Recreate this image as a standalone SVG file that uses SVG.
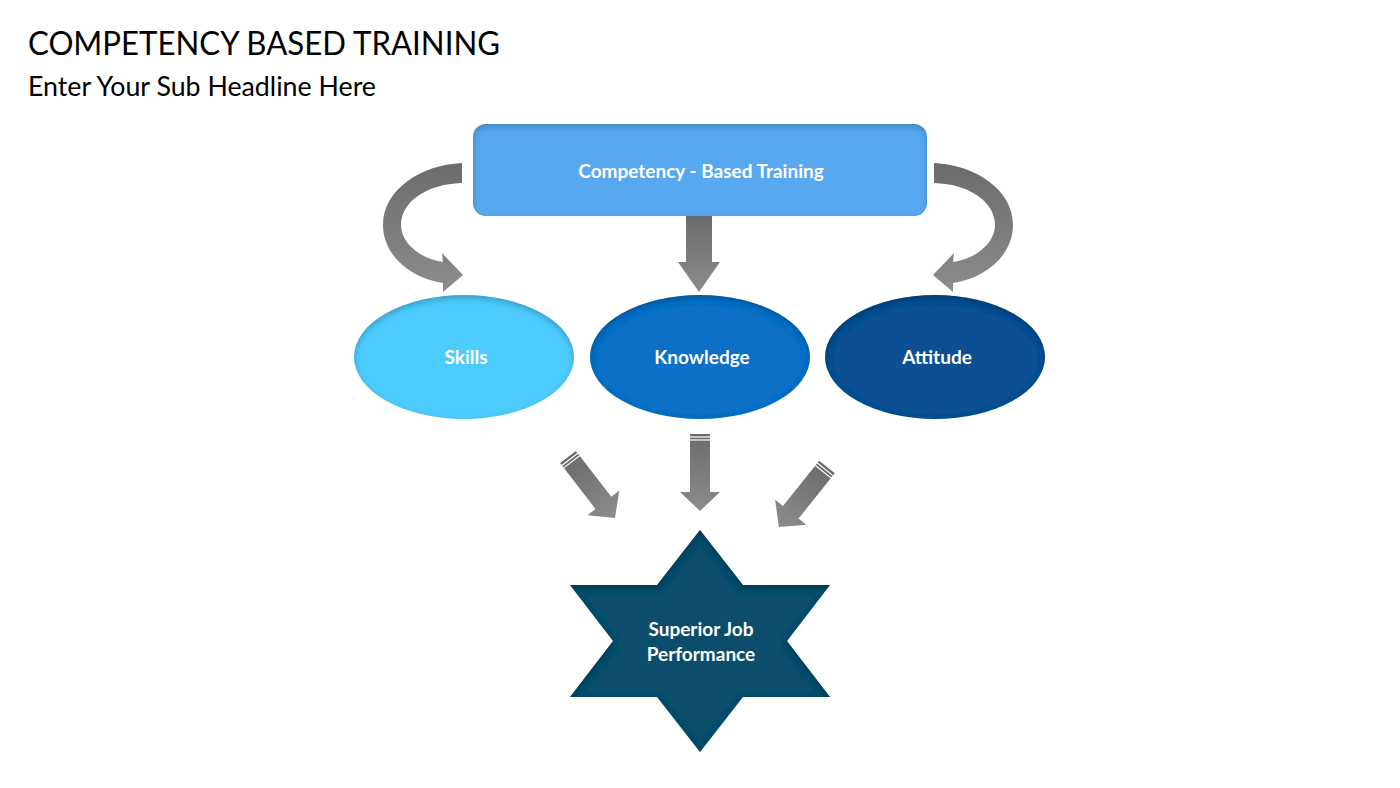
<svg xmlns="http://www.w3.org/2000/svg" width="1400" height="788" viewBox="0 0 1400 788">
<defs>
<style>
.title{font-family:Lato,"Open Sans",sans-serif;font-size:33px;fill:#000}
.sub{font-family:Lato,"Open Sans",sans-serif;font-size:26px;fill:#000}
.lbl{font-family:Lato,"Open Sans",sans-serif;font-size:19px;font-weight:bold;fill:#fff;text-anchor:middle}
.arrow{fill:url(#grey)}
.stripe{stroke:#fff;stroke-width:1.2}
</style>
<linearGradient id="grey" x1="0" y1="0" x2="0" y2="1">
<stop offset="0" stop-color="#6b6b6b"/>
<stop offset="1" stop-color="#8c8c8c"/>
</linearGradient>
<filter id="inset" x="-10%" y="-10%" width="120%" height="120%">
<feComponentTransfer in="SourceAlpha"><feFuncA type="table" tableValues="1 0"/></feComponentTransfer>
<feGaussianBlur stdDeviation="3"/>
<feOffset dx="0" dy="3" result="sh"/>
<feFlood flood-color="#000" flood-opacity="0.45"/>
<feComposite in2="sh" operator="in"/>
<feComposite in2="SourceAlpha" operator="in" result="inner"/>
<feMerge><feMergeNode in="SourceGraphic"/><feMergeNode in="inner"/></feMerge>
</filter>
<g id="downArrow">
<path d="M-10,0 H10 V58 H20 L0,77 L-20,58 H-10 Z"/>
<line class="stripe" x1="-10" y1="3" x2="10" y2="3"/>
<line class="stripe" x1="-10" y1="6" x2="10" y2="6"/>
</g>
</defs>
<rect width="1400" height="788" fill="#fff"/>
<text class="title" x="28" y="55" textLength="472" lengthAdjust="spacingAndGlyphs">COMPETENCY BASED TRAINING</text>
<text class="sub" x="28" y="96" textLength="348" lengthAdjust="spacingAndGlyphs">Enter Your Sub Headline Here</text>

<g id="connectors">
<g id="arrow-left-curve" class="arrow">
<path d="M462,163 C420,165 383,190 383,225 C383,255 410,278 443,283 L443,292 L463,275 L442,253 L443,262 C418,258 401,242 401,225 C401,203 425,184 462,183 Z"/>
</g>
<g id="arrow-right-curve" class="arrow" transform="translate(1396,0) scale(-1,1)">
<path d="M462,163 C420,165 383,190 383,225 C383,255 410,278 443,283 L443,292 L463,275 L442,253 L443,262 C418,258 401,242 401,225 C401,203 425,184 462,183 Z"/>
</g>
<g id="arrow-center-top" class="arrow">
<path d="M686,216 H712 V262 H720 L699,292 L678,262 H686 Z"/>
</g>
<use href="#downArrow" class="arrow" transform="translate(700,434)"/>
<use href="#downArrow" class="arrow" transform="translate(568,457) rotate(-37.6)"/>
<use href="#downArrow" class="arrow" transform="translate(827,467) rotate(38.7)"/>
</g>

<g id="node-cbt">
<rect x="473" y="124" width="454" height="92" rx="13" fill="#58a8f0" filter="url(#inset)"/>
<text class="lbl" x="701" y="178">Competency - Based Training</text>
</g>
<g id="node-skills">
<ellipse cx="464" cy="357" rx="110" ry="62" fill="#4ecbfc" filter="url(#inset)"/>
<text class="lbl" x="466" y="364">Skills</text>
</g>
<g id="node-knowledge">
<ellipse cx="700" cy="357" rx="110" ry="62" fill="#116fc7" filter="url(#inset)"/>
<text class="lbl" x="702" y="364">Knowledge</text>
</g>
<g id="node-attitude">
<ellipse cx="935" cy="357" rx="110" ry="62" fill="#0e5093" filter="url(#inset)"/>
<text class="lbl" x="937" y="364">Attitude</text>
</g>
<g id="node-performance">
<polygon points="700,530 743,585 830,585 787,641 830,697 743,697 700,752 657,697 570,697 613,641 570,585 657,585" fill="#0c4d6c" filter="url(#inset)"/>
<text class="lbl" x="701" y="636">Superior Job</text>
<text class="lbl" x="701" y="661">Performance</text>
</g>
</svg>
